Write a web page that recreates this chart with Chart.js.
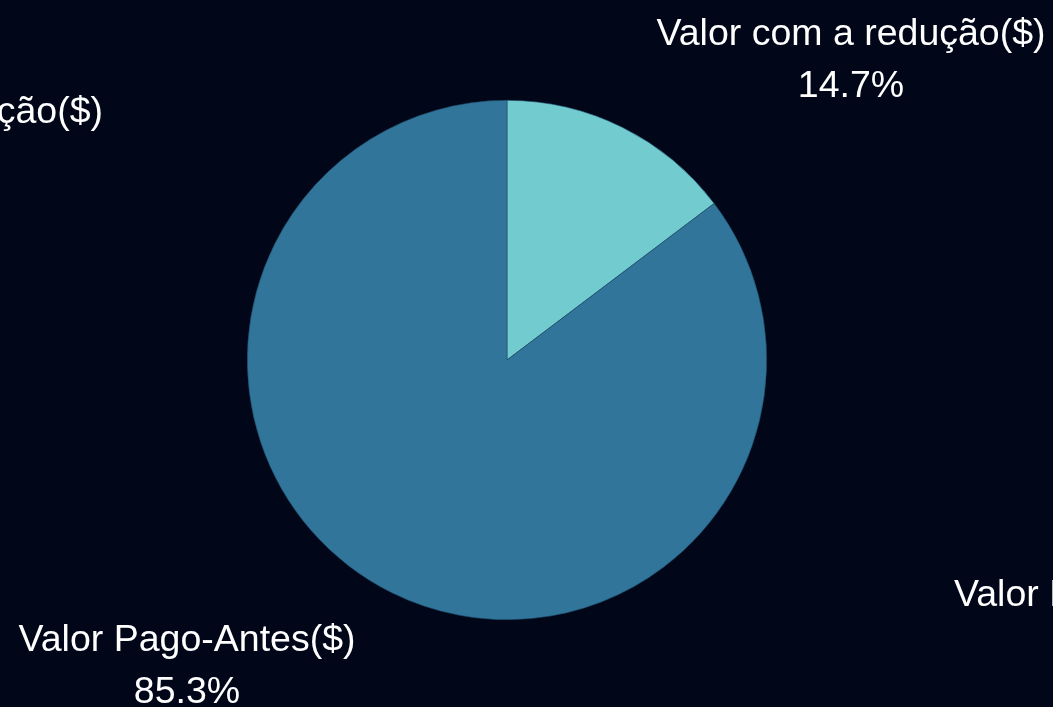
<!DOCTYPE html>
<html>
<head>
<meta charset="utf-8">
<script src="https://cdn.jsdelivr.net/npm/chart.js@4/dist/chart.umd.min.js"></script>
<style>
  html, body { margin: 0; padding: 0; background: #010619; }
  #wrap { width: 1053px; height: 707px; position: relative; }
</style>
</head>
<body>
<div id="wrap"><canvas id="pieChart"></canvas></div>
<script>
const categories = ["Valor com a redução($)", "Valor Pago-Antes($)"];
const shares = [14.7, 85.3];
const sliceColors = ["#72cbcf", "#31769a"];

// labels outside the pie, offsets from the pie centre
const outsideLabels = {
  id: "outsideLabels",
  afterDraw(chart) {
    const c = chart.ctx;
    const arc = chart.getDatasetMeta(0).data[0];
    const cx = arc.x, cy = arc.y;
    c.save();
    c.fillStyle = "#ffffff";
    c.font = "37.5px 'Liberation Sans', Arial, sans-serif";
    c.textBaseline = "middle";

    // main labels: name + percent
    const spots = [[344, -325], [-320, 281]];
    spots.forEach((p, i) => {
      c.textAlign = "center";
      c.fillText(categories[i], cx + p[0], cy + p[1]);
      c.fillText(shares[i].toFixed(1) + "%", cx + p[0], cy + p[1] + 52);
    });

    // the clipped copies at the edges
    c.textAlign = "right";
    c.fillText(categories[0], 103, cy - 247);
    c.textAlign = "left";
    c.fillText(categories[1], 954, cy + 236);
    c.restore();
  }
};

new Chart(document.getElementById("pieChart"), {
  type: "pie",
  data: {
    labels: categories,
    datasets: [{
      data: shares,
      backgroundColor: sliceColors,
      borderColor: "#1d4a66",
      borderWidth: 0.6
    }]
  },
  options: {
    responsive: true,
    maintainAspectRatio: false,
    animation: false,
    layout: { padding: { left: 247, right: 286, top: 100, bottom: 87 } },
    plugins: {
      legend: { display: false },
      tooltip: { enabled: false }
    }
  },
  plugins: [outsideLabels]
});
</script>
</body>
</html>
